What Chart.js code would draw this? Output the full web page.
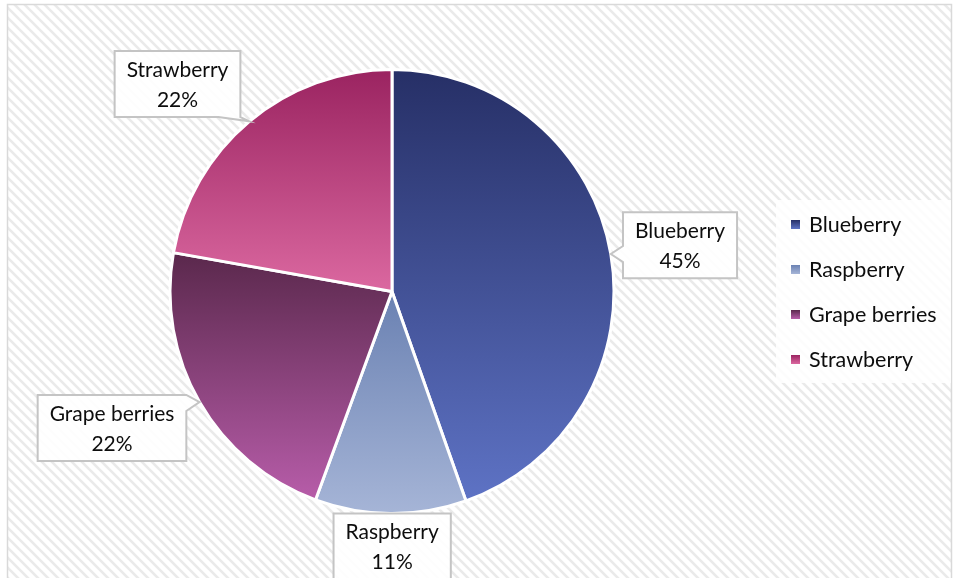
<!DOCTYPE html>
<html>
<head>
<meta charset="utf-8">
<style>
  html, body { margin: 0; padding: 0; background: #fff; }
  #wrap { width: 957px; height: 578px; }
</style>
<script src="https://cdn.jsdelivr.net/npm/chart.js@4.4.1/dist/chart.umd.min.js"></script>
</head>
<body>
<div id="wrap"><canvas id="pie"></canvas></div>
<script>
const fruits = ['Blueberry', 'Raspberry', 'Grape berries', 'Strawberry'];
const shares = [44.6, 11.0, 22.2, 22.2];
const topColors = ['#262f66', '#6a81b2', '#5a284c', '#9a2360'];
const bottomColors = ['#5e73c5', '#a6b5d7', '#b85daa', '#db68a0'];

const FONT = 'Lato, "Open Sans", sans-serif';
const total = shares.reduce((a, b) => a + b, 0);

function sliceAngles(i) {
  const before = shares.slice(0, i).reduce((a, b) => a + b, 0);
  const a0 = -Math.PI / 2 + before / total * 2 * Math.PI;
  return [a0, a0 + shares[i] / total * 2 * Math.PI];
}

// vertical gradient spanning each slice's own height
function sliceGradient(ctx, area, i) {
  const cy = (area.top + area.bottom) / 2;
  const r = Math.min(area.width, area.height) / 2;
  const [a0, a1] = sliceAngles(i);
  const ys = [cy, cy + r * Math.sin(a0), cy + r * Math.sin(a1)];
  for (let k = -1; k <= 3; k++) {
    const a = Math.PI / 2 + k * Math.PI;
    if (a > a0 && a < a1) ys.push(cy + r * Math.sin(a));
  }
  const g = ctx.createLinearGradient(0, Math.min(...ys), 0, Math.max(...ys));
  g.addColorStop(0, topColors[i]);
  g.addColorStop(1, bottomColors[i]);
  return g;
}

function hatch() {
  const c = document.createElement('canvas');
  c.width = 10; c.height = 10;
  const x = c.getContext('2d');
  x.fillStyle = '#fff';
  x.fillRect(0, 0, 10, 10);
  x.strokeStyle = '#eaeaea';
  x.lineWidth = 2.6;
  for (const dx of [-10, 0, 10]) {
    x.beginPath();
    x.moveTo(dx - 1, -1);
    x.lineTo(dx + 11, 11);
    x.stroke();
  }
  return c;
}

const backdrop = {
  id: 'backdrop',
  beforeDraw(chart) {
    const { ctx, width, height } = chart;
    ctx.save();
    ctx.fillStyle = '#fff';
    ctx.fillRect(0, 0, width, height);
    ctx.fillStyle = ctx.createPattern(hatch(), 'repeat');
    ctx.fillRect(8, 5, 943, height);
    ctx.strokeStyle = '#d9d9d9';
    ctx.lineWidth = 1.5;
    ctx.strokeRect(7.5, 4.5, 944, height + 10);
    ctx.restore();
  }
};

const clamp = (v, lo, hi) => Math.max(lo, Math.min(hi, v));

function calloutPath(x0, y0, x1, y1, tip) {
  const [tx, ty] = tip;
  const outL = tx < x0, outR = tx > x1, outT = ty < y0, outB = ty > y1;
  const qx = clamp(tx, x0, x1), qy = clamp(ty, y0, y1);
  const far = Math.hypot(tx - qx, ty - qy) > 5;
  const TL = [[x0, y0]], TR = [[x1, y0]], BR = [[x1, y1]], BL = [[x0, y1]];
  if (far) {
    if (outR && outB) BR.push(tip, [x1 - 22, y1]);
    else if (outR && outT) TR.unshift([x1 - 22, y0], tip);
    else if (outL && outB) BL.unshift([x0 + 22, y1], tip);
    else if (outL && outT) TL.push(tip, [x0 + 22, y0]);
    else if (outL) { const yy = clamp(ty, y0 + 8, y1 - 8); BL.push([x0, yy + 8], tip, [x0, yy - 8]); }
    else if (outR) { const yy = clamp(ty, y0 + 8, y1 - 8); TR.push([x1, yy - 8], tip, [x1, yy + 8]); }
    else if (outT) { const xx = clamp(tx, x0 + 8, x1 - 8); TL.push([xx - 8, y0], tip, [xx + 8, y0]); }
    else if (outB) { const xx = clamp(tx, x0 + 8, x1 - 8); BR.push([xx + 8, y1], tip, [xx - 8, y1]); }
  }
  return [...TL, ...TR, ...BR, ...BL];
}

const callouts = {
  id: 'callouts',
  afterDatasetsDraw(chart, args, opts) {
    const { ctx } = chart;
    const meta = chart.getDatasetMeta(0);
    ctx.save();
    ctx.font = `21px ${FONT}`;
    meta.data.forEach((arc, i) => {
      const { x, y, outerRadius, startAngle, endAngle } =
        arc.getProps(['x', 'y', 'outerRadius', 'startAngle', 'endAngle'], true);
      const mid = (startAngle + endAngle) / 2;
      const tip = [x + outerRadius * Math.cos(mid), y + outerRadius * Math.sin(mid)];
      const p = opts.place[i];
      const a = mid + p.turn * Math.PI / 180;
      const bx = x + outerRadius * p.dist * Math.cos(a);
      const by = y + outerRadius * p.dist * Math.sin(a);
      const lines = [fruits[i], Math.round(shares[i] / total * 100) + '%'];
      const w = Math.max(...lines.map((t) => ctx.measureText(t).width)) + 24;
      const h = 66;
      const pts = calloutPath(bx - w / 2, by - h / 2, bx + w / 2, by + h / 2, tip);
      ctx.beginPath();
      pts.forEach(([px, py], k) => (k ? ctx.lineTo(px, py) : ctx.moveTo(px, py)));
      ctx.closePath();
      ctx.fillStyle = 'rgba(255,255,255,0.88)';
      ctx.fill();
      ctx.strokeStyle = '#c4c4c4';
      ctx.lineWidth = 2;
      ctx.stroke();
      ctx.fillStyle = '#0d0d0d';
      ctx.textAlign = 'center';
      ctx.textBaseline = 'middle';
      ctx.fillText(lines[0], bx, by - 14);
      ctx.fillText(lines[1], bx, by + 16);
    });
    ctx.restore();
  }
};

const sideLegend = {
  id: 'sideLegend',
  afterDraw(chart, args, opts) {
    const { ctx } = chart;
    ctx.save();
    ctx.fillStyle = 'rgba(255,255,255,0.85)';
    ctx.fillRect(opts.left, opts.top - 24, 175, 45 * fruits.length + 3);
    ctx.font = `21.5px ${FONT}`;
    ctx.textBaseline = 'middle';
    fruits.forEach((name, i) => {
      const yy = opts.top + i * 45;
      const g = ctx.createLinearGradient(0, yy - 4, 0, yy + 5);
      g.addColorStop(0, topColors[i]);
      g.addColorStop(1, bottomColors[i]);
      ctx.fillStyle = g;
      ctx.fillRect(opts.left + 15, yy - 4, 9, 9);
      ctx.fillStyle = '#0d0d0d';
      ctx.fillText(name, opts.left + 33, yy + 1);
    });
    ctx.restore();
  }
};

new Chart(document.getElementById('pie'), {
  type: 'pie',
  data: {
    labels: fruits,
    datasets: [{
      data: shares,
      backgroundColor: (c) => {
        const area = c.chart.chartArea;
        if (!area) return topColors[c.dataIndex];
        return sliceGradient(c.chart.ctx, area, c.dataIndex);
      },
      borderColor: '#ffffff',
      borderWidth: 3,
      hoverOffset: 0
    }]
  },
  options: {
    responsive: true,
    maintainAspectRatio: false,
    animation: false,
    layout: { padding: { top: 68, bottom: 63, left: 10, right: 183 } },
    plugins: {
      legend: { display: false },
      tooltip: { enabled: false },
      callouts: {
        place: [
          { dist: 1.314, turn: 0.6 },
          { dist: 1.149, turn: -0.4 },
          { dist: 1.403, turn: 3.9 },
          { dist: 1.344, turn: -6 }
        ]
      },
      sideLegend: { left: 776, top: 224 }
    }
  },
  plugins: [backdrop, callouts, sideLegend]
});
</script>
</body>
</html>
